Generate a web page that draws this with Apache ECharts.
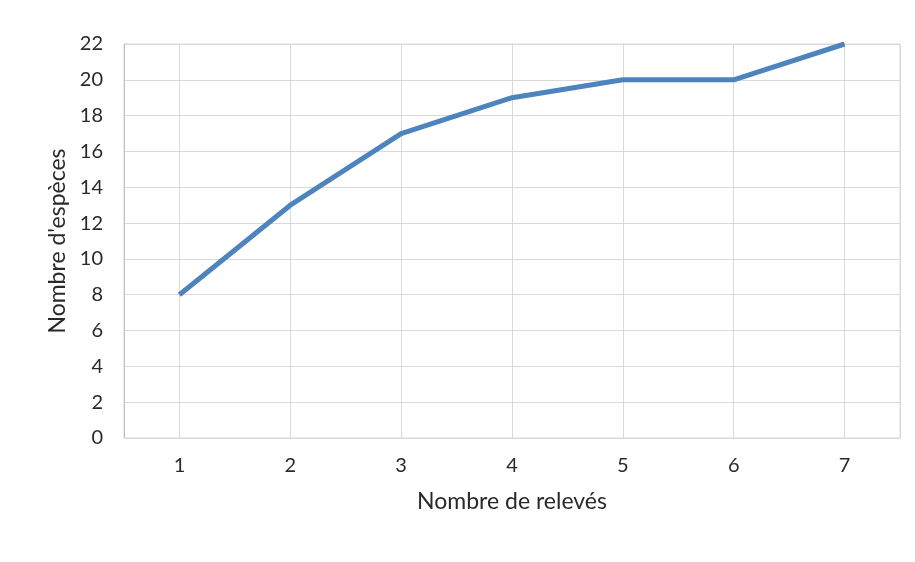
<!DOCTYPE html>
<html>
<head>
<meta charset="utf-8">
<script src="https://cdn.jsdelivr.net/npm/echarts@6/dist/echarts.min.js"></script>
<style>
  html, body { margin: 0; padding: 0; background: #fff; }
  #chart { width: 915px; height: 562px; }
</style>
</head>
<body>
<div id="chart"></div>
<script>
// Nombre de relevés (axe X)
const releves = [1, 2, 3, 4, 5, 6, 7];
// Nombre d'espèces cumulé
const especes = [8, 13, 17, 19, 20, 20, 22];
// Graduations de l'axe Y
const yMin = 0;
const yMax = 22;
const yStep = 2;

const chart = echarts.init(document.getElementById('chart'));

const font = 'Lato, "Open Sans", sans-serif';
const gridColor = '#d9d9d9';

const option = {
    animation: false,
    backgroundColor: '#fff',
    grid: {
        left: 124,
        right: 15,
        top: 44,
        bottom: 124,
        show: true,
        borderColor: gridColor,
        borderWidth: 1
    },
    xAxis: {
        type: 'value',
        min: releves[0] - 0.5,
        max: releves[releves.length - 1] + 0.5,
        splitNumber: 7,
        name: 'Nombre de relevés',
        nameLocation: 'middle',
        nameGap: 52,
        nameTextStyle: { fontFamily: font, fontSize: 23, color: '#2a2a2a' },
        axisLine: { show: true, lineStyle: { color: gridColor } },
        axisTick: { show: false },
        axisLabel: {
            margin: 18,
            fontFamily: font,
            fontSize: 20,
            color: '#2a2a2a',
            formatter: v => (Number.isInteger(v) ? String(v) : '')
        },
        splitLine: { show: true, lineStyle: { color: gridColor } }
    },
    yAxis: {
        type: 'value',
        min: yMin,
        max: yMax,
        interval: yStep,
        name: "Nombre d'espèces",
        nameLocation: 'middle',
        nameGap: 48,
        nameTextStyle: { fontFamily: font, fontSize: 23, color: '#2a2a2a' },
        axisLine: { show: true, lineStyle: { color: '#bfbfbf' } },
        axisTick: { show: false },
        axisLabel: { margin: 21, fontFamily: font, fontSize: 20, color: '#2a2a2a' },
        splitLine: { show: true, lineStyle: { color: gridColor } }
    },
    series: [{
        type: 'line',
        data: releves.map((r, i) => [r, especes[i]]),
        symbol: 'none',
        lineStyle: { color: '#4d84bd', width: 5 }
    }]
};

chart.setOption(option);
</script>
</body>
</html>
